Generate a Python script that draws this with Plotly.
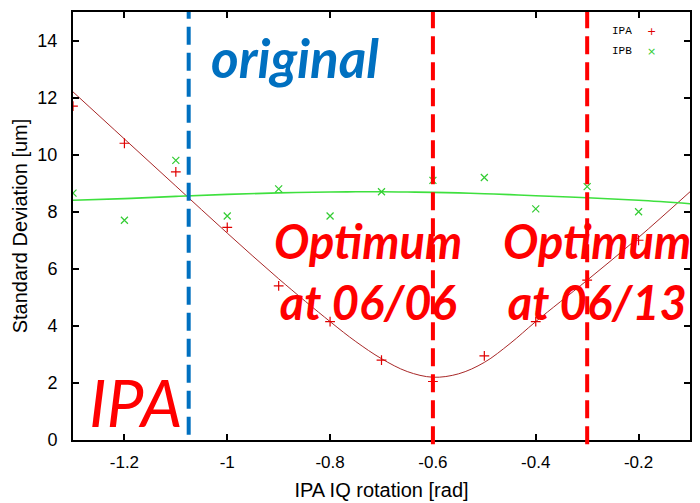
import plotly.graph_objects as go

# Measured points
x_pts = [-1.3, -1.2, -1.1, -1.0, -0.9, -0.8, -0.7, -0.6, -0.5, -0.4, -0.3, -0.2]
ipa_pts = [11.7, 10.4, 9.4, 7.45, 5.4, 4.15, 2.8, 2.05, 2.95, 4.15, 5.6, 7.0]
ipb_pts = [8.65, 7.7, 9.8, 7.85, 8.8, 7.85, 8.7, 9.1, 9.2, 8.1, 8.88, 8.0]

# Fit curves
x_fit = [-1.3, -1.2, -1.1, -1.0, -0.9, -0.8, -0.75, -0.7, -0.65, -0.6, -0.55, -0.5, -0.45, -0.4, -0.3, -0.2, -0.1]
ipa_fit = [12.2, 10.55, 8.9, 7.25, 5.65, 4.15, 3.45, 2.85, 2.4, 2.2, 2.32, 2.72, 3.38, 4.15, 5.6, 7.1, 8.7]
ipb_fit = [8.4, 8.46, 8.54, 8.61, 8.66, 8.69, 8.7, 8.7, 8.69, 8.68, 8.66, 8.63, 8.6, 8.56, 8.49, 8.4, 8.28]

x_ticks = [-1.2, -1.0, -0.8, -0.6, -0.4, -0.2]
x_tick_text = ["-1.2", "-1", "-0.8", "-0.6", "-0.4", "-0.2"]
y_ticks = [0, 2, 4, 6, 8, 10, 12, 14]

original_x = -1.075
optimum_x = [-0.6, -0.3]

RED = "#e00000"
GREEN = "#33cc33"
BLUE = "#0070c0"
TXT_RED = "#ff0000"

fig = go.Figure()
fig.add_trace(go.Scatter(x=x_fit, y=ipa_fit, mode="lines", line=dict(color="#a82828", width=1.0, shape="spline"), showlegend=False))
fig.add_trace(go.Scatter(x=x_fit, y=ipb_fit, mode="lines", line=dict(color="#3ee03e", width=1.6, shape="spline"), showlegend=False))
fig.add_trace(go.Scatter(x=x_pts, y=ipa_pts, mode="markers", name="IPA",
                         marker=dict(symbol="cross-thin", size=7, line=dict(color=RED, width=1.2)), showlegend=False))
fig.add_trace(go.Scatter(x=x_pts, y=ipb_pts, mode="markers", name="IPB",
                         marker=dict(symbol="x-thin", size=7, line=dict(color=GREEN, width=1.2)), showlegend=False))

shapes = [dict(type="line", xref="x", yref="paper", x0=original_x, x1=original_x, y0=0.012, y1=1.0,
               line=dict(color=BLUE, width=4, dash="18px,8px"))]
for xo in optimum_x:
    shapes.append(dict(type="line", xref="x", yref="paper", x0=xo, x1=xo, y0=-0.01, y1=1.0,
                       line=dict(color=TXT_RED, width=4, dash="18px,8px")))

big = dict(family="Lato", size=47, color=TXT_RED, weight="bold", style="italic")
annotations = [
    dict(x=-0.868, y=13.4, xref="x", yref="y", text="original", showarrow=False,
         font=dict(family="Lato", size=53, color=BLUE, weight="bold", style="italic")),
    dict(x=-0.727, y=5.9, xref="x", yref="y", text="Optimum<br>at 06/06", showarrow=False, font=big, align="center"),
    dict(x=-0.28, y=5.9, xref="x", yref="y", text="Optimum<br>at 06/13", showarrow=False, font=big, align="center"),
    dict(x=-1.179, y=1.35, xref="x", yref="y", text="IPA", showarrow=False,
         font=dict(family="Lato", size=66, color=TXT_RED, style="italic")),
    # legend
    dict(x=0.91, y=0.975, xref="paper", yref="paper", text="IPA", showarrow=False, xanchor="right",
         font=dict(family="Liberation Mono", size=11, color="black")),
    dict(x=0.91, y=0.928, xref="paper", yref="paper", text="IPB", showarrow=False, xanchor="right",
         font=dict(family="Liberation Mono", size=11, color="black")),
    dict(x=0.948, y=0.975, xref="paper", yref="paper", text="+", showarrow=False,
         font=dict(family="DejaVu Sans", size=11, color=RED)),
    dict(x=0.948, y=0.928, xref="paper", yref="paper", text="×", showarrow=False,
         font=dict(family="DejaVu Sans", size=11, color=GREEN)),
]

axis_common = dict(showline=True, linecolor="black", linewidth=2, mirror="ticks", ticks="inside",
                   ticklen=6, tickwidth=1.5, tickcolor="black", showgrid=False, zeroline=False,
                   automargin=False)

fig.update_layout(
    width=700, height=503,
    margin=dict(l=73, r=10, t=12, b=63),
    plot_bgcolor="white", paper_bgcolor="white",
    shapes=shapes, annotations=annotations,
    xaxis=dict(range=[-1.3, -0.1], tickvals=x_ticks, ticktext=x_tick_text,
               tickfont=dict(family="Liberation Sans", size=17, color="black"), ticklabelstandoff=6,
               title=dict(text="IPA IQ rotation [rad]", font=dict(family="Liberation Sans", size=20, color="black"), standoff=12),
               **axis_common),
    yaxis=dict(range=[0, 15], tickvals=y_ticks,
               tickfont=dict(family="Liberation Sans", size=18, color="black"), ticklabelstandoff=10,
               title=dict(text="Standard Deviation [um]", font=dict(family="Liberation Sans", size=20, color="black"), standoff=4),
               **axis_common),
)

fig.write_html("out.html")
